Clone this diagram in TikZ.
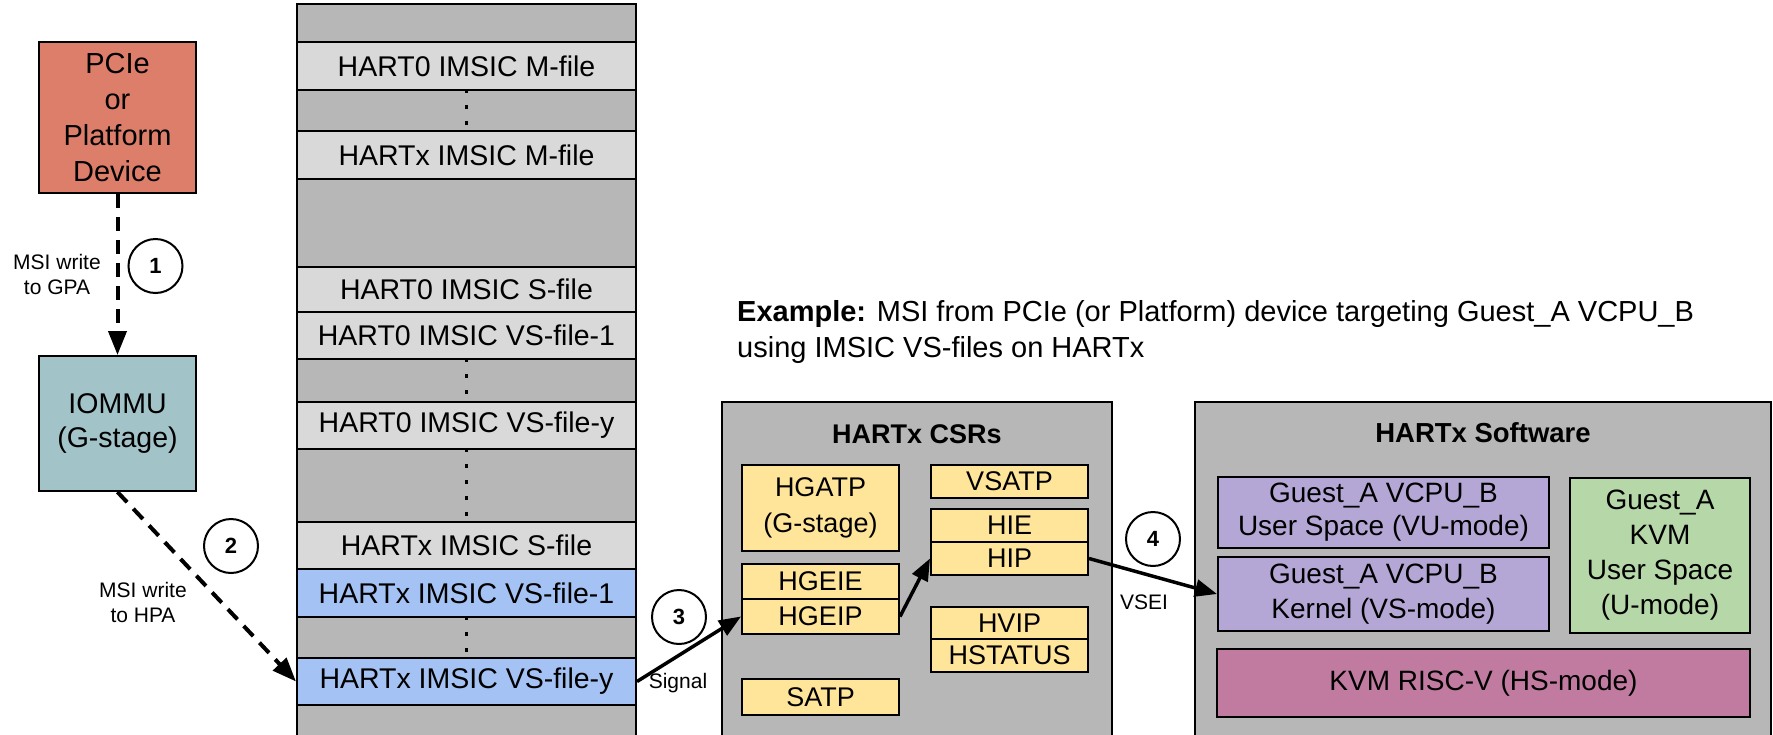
\documentclass[tikz,border=0pt]{standalone}
\usepackage{fontspec}
\setmainfont{Liberation Sans}
\usetikzlibrary{arrows.meta}

\definecolor{devred}{HTML}{DD7E6B}
\definecolor{iommublue}{HTML}{A2C4C9}
\definecolor{memgray}{HTML}{B7B7B7}
\definecolor{filegray}{HTML}{D9D9D9}
\definecolor{fileblue}{HTML}{A4C2F4}
\definecolor{csryellow}{HTML}{FFE599}
\definecolor{vcpupurple}{HTML}{B4A7D6}
\definecolor{usergreen}{HTML}{B6D7A8}
\definecolor{kvmpink}{HTML}{C27BA0}

\begin{document}
\begin{tikzpicture}[x=1pt, y=-1pt,
  box/.style={draw, line width=2pt, inner sep=0pt, align=center},
  memrow/.style={box, fill=memgray, minimum width=339pt},
  memfile/.style={memrow, fill=filegray, font=\fontsize{28.5}{34}\selectfont},
  csrreg/.style={box, fill=csryellow, minimum width=157pt, font=\fontsize{27}{36}\selectfont},
  swbox/.style={box, font=\fontsize{28}{35}\selectfont},
  numcircle/.style={circle, draw, line width=2pt, minimum size=54pt, inner sep=0pt, font=\fontsize{22}{22}\selectfont\bfseries},
  note/.style={inner sep=0pt, align=center, font=\fontsize{21}{25}\selectfont},
  dasharrow/.style={-{Triangle[length=24pt,width=18pt]}, line width=4pt, dash pattern=on 14pt off 9pt},
  sigarrow/.style={-{Triangle[length=22pt,width=17pt]}, line width=3.5pt},
  vdots/.style={line width=3.5pt, dash pattern=on 4pt off 12pt}
]

\useasboundingbox (0,0) rectangle (1773,734);

% device and iommu
\node[box, fill=devred, minimum width=157pt, minimum height=151pt, font=\fontsize{29}{36.3}\selectfont] (dev) at (117.5,117.5) {PCIe\\or\\Platform\\Device};
\node[box, fill=iommublue, minimum width=157pt, minimum height=135pt, font=\fontsize{28.5}{35}\selectfont] (iommu) at (117.5,423.5) {IOMMU\\(G-stage)};

% memory map
\node[memrow, minimum height=38pt] (m1) at (466.5,23) {};
\node[memfile, minimum height=48pt] (m2) at (466.5,66) {HART0 IMSIC M-file};
\node[memrow, minimum height=41pt] (m3) at (466.5,110.5) {};
\node[memfile, minimum height=48pt] (m4) at (466.5,155) {HARTx IMSIC M-file};
\node[memrow, minimum height=88pt] (m5) at (466.5,223) {};
\node[memfile, minimum height=45pt] (m6) at (466.5,289.5) {HART0 IMSIC S-file};
\node[memfile, minimum height=47pt] (m7) at (466.5,335.5) {HART0 IMSIC VS-file-1};
\node[memrow, minimum height=43pt] (m8) at (466.5,380.5) {};
\node[memfile, minimum height=47pt] (m9) at (466.5,425.5) {HART0 IMSIC VS-file-y};
\node[memrow, minimum height=73pt] (m10) at (466.5,485.5) {};
\node[memfile, minimum height=47pt] (m11) at (466.5,545.5) {HARTx IMSIC S-file};
\node[memfile, fill=fileblue, minimum height=48pt] (m12) at (466.5,593) {HARTx IMSIC VS-file-1};
\node[memrow, minimum height=41pt] (m13) at (466.5,637.5) {};
\node[memfile, fill=fileblue, minimum height=47pt] (m14) at (466.5,681.5) {HARTx IMSIC VS-file-y};
\node[memrow, minimum height=55pt] (m15) at (466.5,732.5) {};

\draw[vdots] (m3.north) -- (m3.south);
\draw[vdots] (m8.north) -- (m8.south);
\draw[vdots] (m10.north) -- (m10.south);
\draw[vdots] (m13.north) -- (m13.south);

% csrs
\node[box, fill=memgray, minimum width=390pt, minimum height=360pt] (csr) at (917,582) {};
\node[font=\fontsize{27}{27}\selectfont\bfseries] (csrtitle) at (917,434) {HARTx CSRs};

\node[csrreg, minimum height=86pt] (hgatp) at (820.5,508) {HGATP\\(G-stage)};
\node[csrreg, minimum height=35pt] (hgeie) at (820.5,581.5) {HGEIE};
\node[csrreg, minimum height=35pt] (hgeip) at (820.5,616.5) {HGEIP};
\node[csrreg, minimum height=36pt] (satp) at (820.5,697) {SATP};

\node[csrreg, minimum height=33pt] (vsatp) at (1009.5,481.5) {VSATP};
\node[csrreg, minimum height=33pt] (hie) at (1009.5,525.5) {HIE};
\node[csrreg, minimum height=33pt] (hip) at (1009.5,558.5) {HIP};
\node[csrreg, minimum height=32pt] (hvip) at (1009.5,623) {HVIP};
\node[csrreg, minimum height=33pt] (hstatus) at (1009.5,655.5) {HSTATUS};

% software
\node[box, fill=memgray, minimum width=576pt, minimum height=360pt] (sw) at (1483,582) {};
\node[font=\fontsize{27.5}{27.5}\selectfont\bfseries] (swtitle) at (1483,433) {HARTx Software};

\node[swbox, fill=vcpupurple, minimum width=331pt, minimum height=71pt, font=\fontsize{28}{33}\selectfont] (guestu) at (1383.5,512.5) {Guest\_A VCPU\_B\\User Space (VU-mode)};
\node[swbox, fill=vcpupurple, minimum width=331pt, minimum height=74pt] (guestk) at (1383.5,594) {Guest\_A VCPU\_B\\Kernel (VS-mode)};
\node[swbox, fill=usergreen, minimum width=180pt, minimum height=155pt] (kvmuser) at (1660,555.5) {Guest\_A\\KVM\\User Space\\(U-mode)};
\node[swbox, fill=kvmpink, minimum width=533pt, minimum height=68pt] (kvm) at (1483.5,683) {KVM RISC-V (HS-mode)};

% title
\node[anchor=west, align=left, inner sep=0pt, font=\fontsize{29}{36}\selectfont] (title) at (737,332) {\textbf{Example:} MSI from PCIe (or Platform) device targeting Guest\_A VCPU\_B\\using IMSIC VS-files on HARTx};

% arrows
\draw[dasharrow] (dev.south) -- (iommu.north);
\draw[dasharrow] (iommu.south) -- (m14.west);
\draw[sigarrow] (m14.east) -- (hgeip.west);
\draw[sigarrow] (hgeip.east) -- (hip.west);
\draw[sigarrow] (hip.east) -- (guestk.west);

% steps
\node[numcircle] (n1) at (155.5,266) {1};
\node[numcircle] (n2) at (231,546) {2};
\node[numcircle] (n3) at (679,617) {3};
\node[numcircle] (n4) at (1153,539) {4};

\node[note] (gpa) at (57,274) {MSI write\\to GPA};
\node[note] (hpa) at (143,602) {MSI write\\to HPA};
\node[note] (sig) at (678,683) {Signal};
\node[note] (vsei) at (1144,602) {VSEI};

\end{tikzpicture}
\end{document}
